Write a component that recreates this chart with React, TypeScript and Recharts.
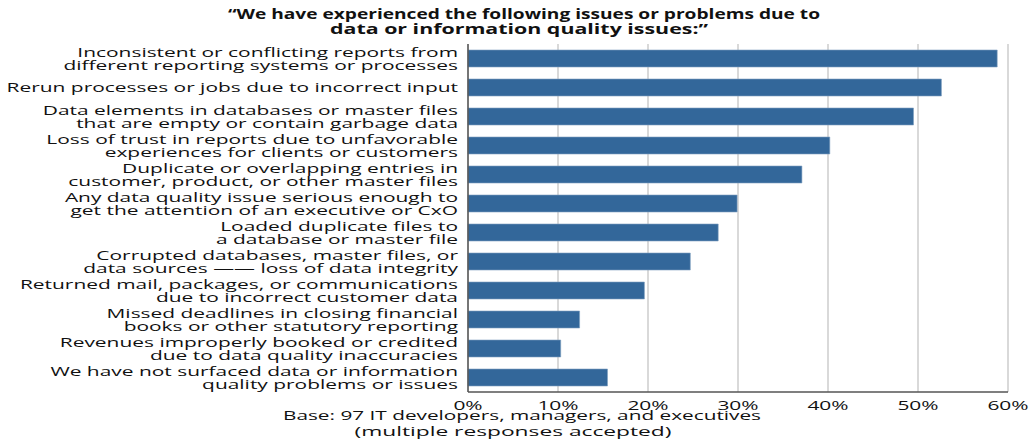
import * as React from "react"
import { Bar, BarChart, CartesianGrid, XAxis, YAxis } from "recharts"

const categories = [
  "Inconsistent or conflicting reports from\ndifferent reporting systems or processes",
  "Rerun processes or jobs due to incorrect input",
  "Data elements in databases or master files\nthat are empty or contain garbage data",
  "Loss of trust in reports due to unfavorable\nexperiences for clients or customers",
  "Duplicate or overlapping entries in\ncustomer, product, or other master files",
  "Any data quality issue serious enough to\nget the attention of an executive or CxO",
  "Loaded duplicate files to\na database or master file",
  "Corrupted databases, master files, or\ndata sources \u2014\u2014 loss of data integrity",
  "Returned mail, packages, or communications\ndue to incorrect customer data",
  "Missed deadlines in closing financial\nbooks or other statutory reporting",
  "Revenues improperly booked or credited\ndue to data quality inaccuracies",
  "We have not surfaced data or information\nquality problems or issues",
]

const percents = [58.8, 52.6, 49.5, 40.2, 37.1, 29.9, 27.8, 24.7, 19.6, 12.4, 10.3, 15.5]

const xTicks = [0, 10, 20, 30, 40, 50, 60]

const titleLines = [
  "\u201cWe have experienced the following issues or problems due to",
  "data or information quality issues:\u201d",
]

const footerLines = [
  "Base: 97 IT developers, managers, and executives",
  "(multiple responses accepted)",
]

const data = categories.map((name, i) => ({ name, value: percents[i] }))

const FONT = "'Open Sans', sans-serif"
const STRETCH = 1.55

const CategoryTick = (props: any) => {
  const { x, y, payload } = props
  const lines: string[] = String(payload.value).split("\n")
  const lineH = 13
  const startDy = -((lines.length - 1) * lineH) / 2
  return (
    <text
      transform={`translate(${x},${y}) scale(${STRETCH},1)`}
      textAnchor="end"
      fontFamily={FONT}
      fontSize={13.5}
      fill="#111"
    >
      {lines.map((line, i) => (
        <tspan key={i} x={0} y={startDy + i * lineH} dy="0.36em">
          {line}
        </tspan>
      ))}
    </text>
  )
}

const PercentTick = (props: any) => {
  const { x, y, payload } = props
  return (
    <text
      transform={`translate(${x},${y}) scale(${STRETCH},1)`}
      textAnchor="middle"
      fontFamily={FONT}
      fontSize={13.5}
      fill="#111"
    >
      <tspan x={0} dy="0.9em">
        {payload.value}%
      </tspan>
    </text>
  )
}

export default function App() {
  return (
    <div style={{ position: "absolute", left: 0, top: 0, width: 1031, height: 442, background: "#fff" }}>
      <BarChart
        width={1031}
        height={442}
        data={data}
        layout="vertical"
        margin={{ top: 44, right: 23, bottom: 20, left: 0 }}
        barSize={17}
      >
        <CartesianGrid horizontal={false} stroke="#d9d9d9" strokeWidth={2} />
        <XAxis
          type="number"
          domain={[0, 60]}
          ticks={xTicks}
          height={30}
          tickLine={false}
          tickSize={0}
          tickMargin={6}
          axisLine={{ stroke: "#555", strokeWidth: 1.5 }}
          tick={<PercentTick />}
        />
        <YAxis
          type="category"
          dataKey="name"
          width={468}
          tickLine={false}
          tickSize={0}
          tickMargin={10}
          axisLine={{ stroke: "#555", strokeWidth: 1.5 }}
          tick={<CategoryTick />}
          interval={0}
        />
        <Bar dataKey="value" fill="#33679a" stroke="#7f9fc0" strokeWidth={0.6} isAnimationActive={false} />
      </BarChart>
      <svg
        width={1031}
        height={442}
        style={{ position: "absolute", left: 0, top: 0, pointerEvents: "none" }}
      >
        <text x={524} y={19} textAnchor="middle" fontFamily={FONT} fontWeight="bold" fontSize={14} fill="#111" textLength={592} lengthAdjust="spacingAndGlyphs">
          {titleLines[0]}
        </text>
        <text x={519} y={34} textAnchor="middle" fontFamily={FONT} fontWeight="bold" fontSize={14} fill="#111" textLength={378} lengthAdjust="spacingAndGlyphs">
          {titleLines[1]}
        </text>
        <text x={522} y={420} textAnchor="middle" fontFamily={FONT} fontSize={13.5} fill="#111" textLength={478} lengthAdjust="spacingAndGlyphs">
          {footerLines[0]}
        </text>
        <text x={513} y={436} textAnchor="middle" fontFamily={FONT} fontSize={13.5} fill="#111" textLength={317} lengthAdjust="spacingAndGlyphs">
          {footerLines[1]}
        </text>
      </svg>
    </div>
  )
}
